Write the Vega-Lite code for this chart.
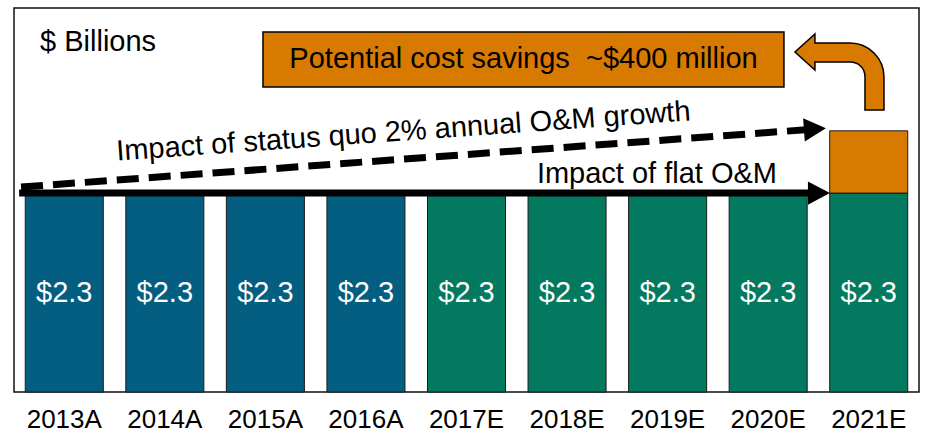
{
  "$schema": "https://vega.github.io/schema/vega-lite/v6.json",
  "width": 905,
  "height": 384,
  "autosize": {"type": "none"},
  "padding": {"left": 14, "top": 8, "right": 6, "bottom": 43},
  "background": "white",
  "config": {"view": {"stroke": "#111111", "strokeWidth": 1.5}, "font": "Liberation Sans"},
  "datasets": {
    "bars": [
      {"year": "2013A", "part": "Actual", "value": 2.3},
      {"year": "2014A", "part": "Actual", "value": 2.3},
      {"year": "2015A", "part": "Actual", "value": 2.3},
      {"year": "2016A", "part": "Actual", "value": 2.3},
      {"year": "2017E", "part": "Estimate", "value": 2.3},
      {"year": "2018E", "part": "Estimate", "value": 2.3},
      {"year": "2019E", "part": "Estimate", "value": 2.3},
      {"year": "2020E", "part": "Estimate", "value": 2.3},
      {"year": "2021E", "part": "Estimate", "value": 2.3},
      {"year": "2021E", "part": "Savings", "value": 0.72}
    ],
    "lines": [
      {"series": "flat", "idx": -0.449, "val": 2.30},
      {"series": "flat", "idx": 7.505, "val": 2.30},
      {"series": "growth", "idx": -0.43, "val": 2.37},
      {"series": "growth", "idx": 7.465, "val": 3.04}
    ],
    "box": [
      {"idx": 1.976, "idx2": 7.157, "val": 4.163, "val2": 3.527}
    ],
    "notes": [
      {"kind": "units", "label": "$ Billions", "idx": -0.241, "val": 3.943},
      {"kind": "box", "label": "Potential cost savings \u00a0~$400 million", "idx": 4.567, "val": 3.845},
      {"kind": "growth", "label": "Impact of status quo 2% annual O&M growth", "idx": 3.378, "val": 2.908},
      {"kind": "flat", "label": "Impact of flat O&M", "idx": 5.894, "val": 2.417}
    ],
    "curve": [
      {"idx": 7.714, "val": 3.70}
    ]
  },
  "layer": [
    {
      "data": {"name": "bars"},
      "layer": [
        {
          "mark": {"type": "bar", "stroke": "#1a1a1a", "strokeWidth": 1},
          "encoding": {
            "x": {"field": "year", "type": "nominal", "sort": null,
              "scale": {"paddingInner": 0.224, "paddingOuter": 0.112},
              "axis": {"title": null, "labelAngle": 0, "labelFontSize": 26, "labelColor": "#000000", "ticks": false, "domain": false, "labelPadding": 14, "labelFont": "Liberation Sans"}},
            "y": {"field": "value", "type": "quantitative", "stack": "zero",
              "scale": {"domain": [0, 4.44], "nice": false}, "axis": null},
            "color": {"field": "part", "type": "nominal",
              "scale": {"domain": ["Actual", "Estimate", "Savings"], "range": ["#045E82", "#037A5F", "#D97A00"]},
              "legend": null},
            "order": {"field": "part", "sort": "ascending"}
          }
        },
        {
          "transform": [{"filter": "datum.part != 'Savings'"}],
          "mark": {"type": "text", "color": "white", "fontSize": 29, "baseline": "middle"},
          "encoding": {
            "x": {"field": "year", "type": "nominal", "sort": null},
            "y": {"datum": 1.15, "type": "quantitative"},
            "text": {"field": "value", "type": "quantitative", "format": "$.1f"}
          }
        }
      ]
    },
    {
      "layer": [
        {
          "data": {"name": "lines"},
          "transform": [{"filter": "datum.series == 'flat'"}],
          "mark": {"type": "line", "color": "#000000", "strokeWidth": 7},
          "encoding": {
            "x": {"field": "idx", "type": "quantitative", "scale": {"domain": [-0.5, 8.5], "nice": false, "zero": false}, "axis": null},
            "y": {"field": "val", "type": "quantitative", "scale": {"domain": [0, 4.44], "nice": false}, "axis": null}
          }
        },
        {
          "data": {"name": "lines"},
          "transform": [{"filter": "datum.series == 'growth'"}],
          "mark": {"type": "line", "color": "#000000", "strokeWidth": 7, "strokeDash": [22, 10]},
          "encoding": {
            "x": {"field": "idx", "type": "quantitative"},
            "y": {"field": "val", "type": "quantitative"}
          }
        },
        {
          "data": {"name": "lines"},
          "transform": [{"filter": "datum.series == 'flat' && datum.idx > 7"}],
          "mark": {"type": "point", "shape": "M-1,-1.05L1,0L-1,1.05Z", "size": 484, "filled": true, "color": "#000000", "opacity": 1},
          "encoding": {
            "x": {"field": "idx", "type": "quantitative"},
            "y": {"field": "val", "type": "quantitative"}
          }
        },
        {
          "data": {"name": "lines"},
          "transform": [{"filter": "datum.series == 'growth' && datum.idx > 7"}],
          "mark": {"type": "point", "shape": "M-1,-1.05L1,0L-1,1.05Z", "size": 484, "filled": true, "color": "#000000", "opacity": 1, "angle": 355.8},
          "encoding": {
            "x": {"field": "idx", "type": "quantitative"},
            "y": {"field": "val", "type": "quantitative"}
          }
        },
        {
          "data": {"name": "box"},
          "mark": {"type": "rect", "fill": "#D97A00", "stroke": "#000000", "strokeWidth": 1.5},
          "encoding": {
            "x": {"field": "idx", "type": "quantitative"},
            "x2": {"field": "idx2"},
            "y": {"field": "val", "type": "quantitative"},
            "y2": {"field": "val2"}
          }
        },
        {
          "data": {"name": "curve"},
          "mark": {"type": "point", "shape": "M-0.556,-0.644 L0.222,-0.644 C0.64,-0.644 0.978,-0.3 0.978,0.111 L0.978,0.844 L0.556,0.844 L0.556,0.111 C0.556,-0.1 0.4,-0.222 0.222,-0.222 L-0.556,-0.222 L-0.556,-0.044 L-1,-0.444 L-0.556,-0.844 Z", "size": 8100, "filled": true, "fill": "#D97A00", "stroke": "#000000", "strokeWidth": 1.5, "opacity": 1},
          "encoding": {
            "x": {"field": "idx", "type": "quantitative"},
            "y": {"field": "val", "type": "quantitative"}
          }
        },
        {
          "data": {"name": "notes"},
          "transform": [{"filter": "datum.kind == 'units'"}],
          "mark": {"type": "text", "align": "left", "baseline": "alphabetic", "fontSize": 29, "color": "#000000"},
          "encoding": {
            "x": {"field": "idx", "type": "quantitative"},
            "y": {"field": "val", "type": "quantitative"},
            "text": {"field": "label"}
          }
        },
        {
          "data": {"name": "notes"},
          "transform": [{"filter": "datum.kind == 'box'"}],
          "mark": {"type": "text", "align": "center", "baseline": "middle", "fontSize": 29, "color": "#000000"},
          "encoding": {
            "x": {"field": "idx", "type": "quantitative"},
            "y": {"field": "val", "type": "quantitative"},
            "text": {"field": "label"}
          }
        },
        {
          "data": {"name": "notes"},
          "transform": [{"filter": "datum.kind == 'growth'"}],
          "mark": {"type": "text", "align": "center", "baseline": "alphabetic", "fontSize": 29, "color": "#000000", "angle": 356},
          "encoding": {
            "x": {"field": "idx", "type": "quantitative"},
            "y": {"field": "val", "type": "quantitative"},
            "text": {"field": "label"}
          }
        },
        {
          "data": {"name": "notes"},
          "transform": [{"filter": "datum.kind == 'flat'"}],
          "mark": {"type": "text", "align": "center", "baseline": "alphabetic", "fontSize": 29, "color": "#000000"},
          "encoding": {
            "x": {"field": "idx", "type": "quantitative"},
            "y": {"field": "val", "type": "quantitative"},
            "text": {"field": "label"}
          }
        }
      ]
    }
  ],
  "resolve": {"scale": {"x": "independent"}}
}
